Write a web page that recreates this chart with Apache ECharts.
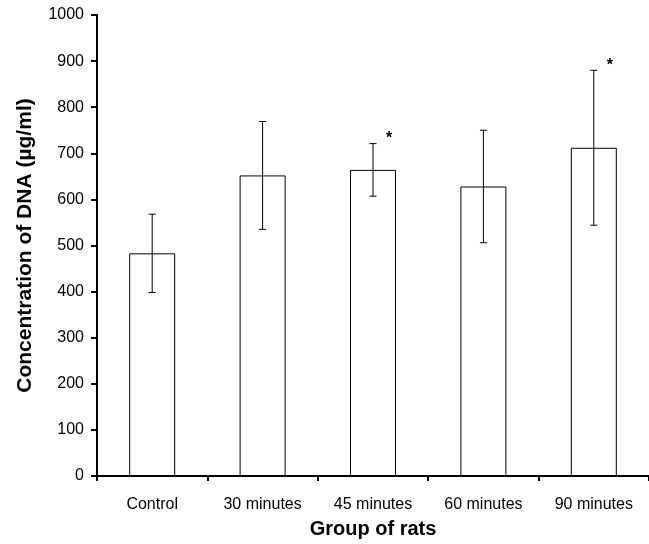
<!DOCTYPE html>
<html>
<head>
<meta charset="utf-8">
<script src="https://cdn.jsdelivr.net/npm/echarts@6/dist/echarts.min.js"></script>
<style>
  html, body { margin: 0; padding: 0; background: #fff; }
  #chart { width: 649px; height: 544px; }
</style>
</head>
<body>
<div id="chart"></div>
<script>
// groups and measured DNA concentration (mean, error)
const groups = ['Control', '30 minutes', '45 minutes', '60 minutes', '90 minutes']
const means = [483, 652, 664, 628, 712]
const errors = [85, 117, 57, 122, 168]
const marks = ['', '', '*', '', '*']

const font = 'Arial, "Liberation Sans", sans-serif'

const chart = echarts.init(document.getElementById('chart'))

// error bars + significance stars
function renderError(params, api) {
  const i = api.value(0)
  const hi = api.coord([i, api.value(1)])
  const lo = api.coord([i, api.value(2)])
  const x = hi[0]
  const cap = 3.5
  const style = { stroke: '#000', lineWidth: 1 }
  const children = [
    { type: 'line', shape: { x1: x, y1: hi[1], x2: x, y2: lo[1] }, style },
    { type: 'line', shape: { x1: x - cap, y1: hi[1], x2: x + cap, y2: hi[1] }, style },
    { type: 'line', shape: { x1: x - cap, y1: lo[1], x2: x + cap, y2: lo[1] }, style },
  ]
  if (marks[i]) {
    children.push({
      type: 'text',
      style: {
        x: x + 16, y: hi[1] - 5,
        text: marks[i],
        font: 'bold 16px ' + font,
        fill: '#000',
        align: 'center',
        verticalAlign: 'middle',
      },
    })
  }
  return { type: 'group', children }
}

const option = {
  animation: false,
  backgroundColor: '#fff',
  grid: { left: 97, top: 15, width: 560, height: 466 },
  xAxis: {
    type: 'category',
    data: groups,
    name: 'Group of rats',
    nameLocation: 'middle',
    nameGap: 43,
    nameTextStyle: { fontFamily: font, fontSize: 20, fontWeight: 'bold', color: '#000' },
    axisLine: { lineStyle: { color: '#000', width: 2 } },
    axisTick: { show: true, length: 5, lineStyle: { color: '#000', width: 2 } },
    axisLabel: { fontFamily: font, fontSize: 16, color: '#000', margin: 21, interval: 0 },
    splitLine: { show: false },
  },
  yAxis: {
    type: 'value',
    min: 0,
    max: 1000,
    interval: 100,
    name: 'Concentration of DNA (\u00b5g/ml)',
    nameLocation: 'middle',
    nameGap: 61,
    nameTextStyle: { fontFamily: font, fontSize: 21, fontWeight: 'bold', color: '#000' },
    axisLine: { show: true, lineStyle: { color: '#000', width: 2 } },
    axisTick: { show: true, length: 6, lineStyle: { color: '#000', width: 2 } },
    axisLabel: { fontFamily: font, fontSize: 16, color: '#000', margin: 13, formatter: (v) => String(v) },
    splitLine: { show: false },
  },
  series: [
    {
      type: 'bar',
      data: means,
      barWidth: 46,
      itemStyle: { color: '#fff', borderColor: '#000', borderWidth: 1 },
    },
    {
      type: 'custom',
      renderItem: renderError,
      data: means.map((m, i) => [i, m + errors[i], m - errors[i]]),
      encode: { x: 0, y: [1, 2] },
      z: 10,
    },
  ],
}

chart.setOption(option)
</script>
</body>
</html>
